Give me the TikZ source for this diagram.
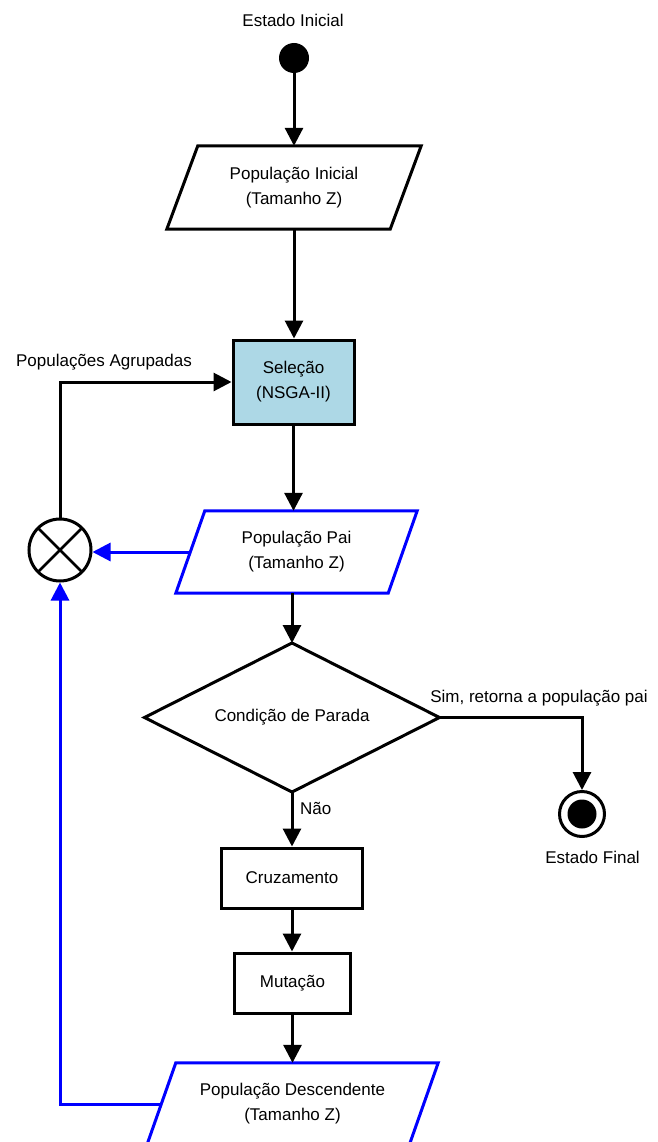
\documentclass[tikz,border=0pt]{standalone}
\usepackage{fontspec}
\setmainfont{Liberation Sans}
\usetikzlibrary{arrows.meta,calc}
\definecolor{selblue}{RGB}{173,216,230}
\begin{document}
\begin{tikzpicture}[x=1pt,y=-1pt,
  every node/.style={font=\fontsize{17}{25}\selectfont, align=center, inner sep=0pt},
  conn/.style={line width=3pt, -{Triangle[width=18pt,length=18pt]}},
  bconn/.style={conn, draw=blue},
  box/.style={draw, line width=3pt, rectangle},
  iobox/.style={rectangle, minimum height=82pt},
  ioline/.style={line width=3pt, line join=miter},
  lbl/.style={}
]
\useasboundingbox (0,0) rectangle (657,1142);

% nodes
\node[lbl] (lblini) at (293,20) {Estado Inicial};
\node[circle, fill, minimum size=30pt] (ini) at (294,58) {};

\node[iobox, minimum width=223pt, minimum height=83pt] (pini) at (294,187.5) {População Inicial\\(Tamanho Z)};
\draw[ioline] ($(pini.north west)+(15.5,0)$) -- ($(pini.north east)+(15.5,0)$) -- ($(pini.south east)+(-15.5,0)$) -- ($(pini.south west)+(-15.5,0)$) -- cycle;

\node[box, fill=selblue, minimum width=121pt, minimum height=84pt] (sel) at (293.5,382) {Seleção\\(NSGA-II)};

\node[iobox, minimum width=212pt] (pai) at (296.5,552) {População Pai\\(Tamanho Z)};
\draw[ioline, blue] ($(pai.north west)+(14.5,0)$) -- ($(pai.north east)+(14.5,0)$) -- ($(pai.south east)+(-14.5,0)$) -- ($(pai.south west)+(-14.5,0)$) -- cycle;

\node[draw, circle, line width=3pt, minimum size=62pt] (cross) at (60,550) {};
\draw[line width=2.5pt, shorten <=1.5pt, shorten >=1.5pt] (cross.north west) -- (cross.south east);
\draw[line width=2.5pt, shorten <=1.5pt, shorten >=1.5pt] (cross.north east) -- (cross.south west);

\node[lbl] (lblagr) at (104,362) {Populações Agrupadas};

\coordinate (dc) at (292,717.5);
\path[draw, line width=3pt, line join=miter] (144.5,717.5) coordinate (dia-w) -- (292,643) coordinate (dia-n) -- (439.5,717.5) coordinate (dia-e) -- (292,792) coordinate (dia-s) -- cycle;
\node (dia) at (dc) {Condição de Parada};

\node[lbl] (lblsim) at (539,698) {Sim, retorna a população pai};
\node[draw, circle, line width=3pt, minimum size=45pt] (fin) at (582,814) {};
\fill (fin.center) circle (14.5);
\node[lbl] (lblfin) at (592.5,857) {Estado Final};

\node[lbl, anchor=west] (lblnao) at (300,808) {Não};

\node[box, minimum width=141pt, minimum height=60pt] (cruz) at (292,878) {Cruzamento};
\node[box, minimum width=116pt, minimum height=60pt] (mut) at (292.5,983) {Mutação};

\node[iobox, minimum width=262pt] (desc) at (292.5,1104) {População Descendente\\(Tamanho Z)};
\draw[ioline, blue] ($(desc.north west)+(14.5,0)$) -- ($(desc.north east)+(14.5,0)$) -- ($(desc.south east)+(-14.5,0)$) -- ($(desc.south west)+(-14.5,0)$) -- cycle;

% connectors
\draw[conn] (ini.south) -- (pini.north);
\draw[conn] (pini.south) -- (pini.south |- sel.north);
\draw[conn] (sel.south) -- (sel.south |- pai.north);
\draw[conn] (pai.south -| dia-n) -- (dia-n);
\draw[conn] (dia-s) -- (dia-s |- cruz.north);
\draw[conn] (cruz.south) -- (cruz.south |- mut.north);
\draw[conn] (mut.south) -- (mut.south |- desc.north);
\draw[conn] (dia-e) -| (fin.north);
\draw[conn] (cross.north) |- (sel.west);
\draw[bconn] (pai.west) -- (pai.west -| cross.east);
\draw[bconn] (desc.west) -| (cross.south);
\end{tikzpicture}
\end{document}
